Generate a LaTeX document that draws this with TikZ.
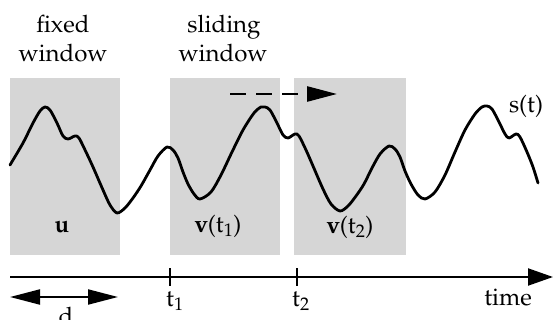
\documentclass[tikz,border=0pt]{standalone}
\usepackage[T1]{fontenc}
\usepackage{mathpazo}
\usetikzlibrary{arrows.meta}
\begin{document}
\begin{tikzpicture}[x=1pt,y=-1pt,
  lbl/.style={font=\fontsize{24}{26}\selectfont, inner sep=0pt},
  winfill/.style={fill=black!16},
  signal/.style={line width=2.8pt, line join=round, line cap=round},
  axisline/.style={line width=2pt, -{Triangle[length=25pt,width=17pt]}},
  tickmark/.style={line width=2pt},
  spanarrow/.style={line width=2pt, {Triangle[length=30pt,width=15pt]}-{Triangle[length=30pt,width=15pt]}},
  slidearrow/.style={line width=2.6pt, dash pattern=on 16pt off 10pt, -{Triangle[length=30pt,width=15pt]}}
]
\useasboundingbox (0,0) rectangle (553,320);
% windows
\fill[winfill] (10,78) rectangle (120,255);
\fill[winfill] (170,78) rectangle (280,255);
\fill[winfill] (294,78) rectangle (406,255);
% signal
\draw[signal] plot[smooth, tension=0.5] coordinates {
 (10,165) (23,143) (33,123) (40,111) (45,107) (50,110) (57,123) (63,136) (68,139) (75,136) (79,138)
 (86,152) (93,167) (103,190) (110,205) (117,213) (125,208) (133,198) (141,186) (150,170) (158,156) (167,147)
 (173,150) (178,158) (183,172) (188,184) (194,194) (200,199)
 (211,192) (221,175) (232,152) (243,130) (254,113) (261,107) (265,107)
 (270,110) (277,123) (283,135) (288,138) (295,134) (299,136)
 (306,150) (313,166) (323,189) (331,204) (340,211) (348,206) (356,196) (364,184) (372,168) (380,154) (389,146)
 (395,149) (400,157) (405,171) (411,184) (418,195) (425,199)
 (435,192) (445,175) (455,152) (465,130) (475,114) (482,107) (487,106)
 (492,109) (499,122) (505,134) (509,138) (516,134) (520,137)
 (527,152) (533,167) (538,183)};
% titles
\node[lbl, anchor=base] (fx1) at (63,33) {fixed};
\node[lbl, anchor=base] (fx2) at (63,62) {window};
\node[lbl, anchor=base] (sl1) at (224,33) {sliding};
\node[lbl, anchor=base] (sl2) at (223,62) {window};
% sliding arrow
\coordinate (sa) at (230,94);
\coordinate (sb) at (337,94);
\draw[slidearrow] (sa) -- (sb);
% window labels
\node[lbl, anchor=base] (u) at (62,232) {\textbf{u}};
\node[lbl, anchor=base] (v1) at (218,232) {\textbf{v}(t$_1$)};
\node[lbl, anchor=base] (v2) at (350,233) {\textbf{v}(t$_2$)};
\node[lbl, anchor=base] (s) at (526,113) {s(t)};
% axis
\coordinate (a0) at (10,277);
\coordinate (a1) at (553,277);
\draw[axisline] (a0) -- (a1);
\coordinate (k1a) at (170,268);
\coordinate (k1b) at (170,286);
\coordinate (k2a) at (297,268);
\coordinate (k2b) at (297,286);
\draw[tickmark] (k1a) -- (k1b);
\draw[tickmark] (k2a) -- (k2b);
\node[lbl, anchor=base west] (t1) at (166,306) {t$_1$};
\node[lbl, anchor=base west] (t2) at (292,306) {t$_2$};
\node[lbl, anchor=base] (time) at (508,305) {time};
% span d
\coordinate (dl) at (10,297);
\coordinate (dr) at (118,297);
\draw[spanarrow] (dl) -- (dr);
\node[lbl, anchor=base] (d) at (66,324) {d};
\end{tikzpicture}
\end{document}
